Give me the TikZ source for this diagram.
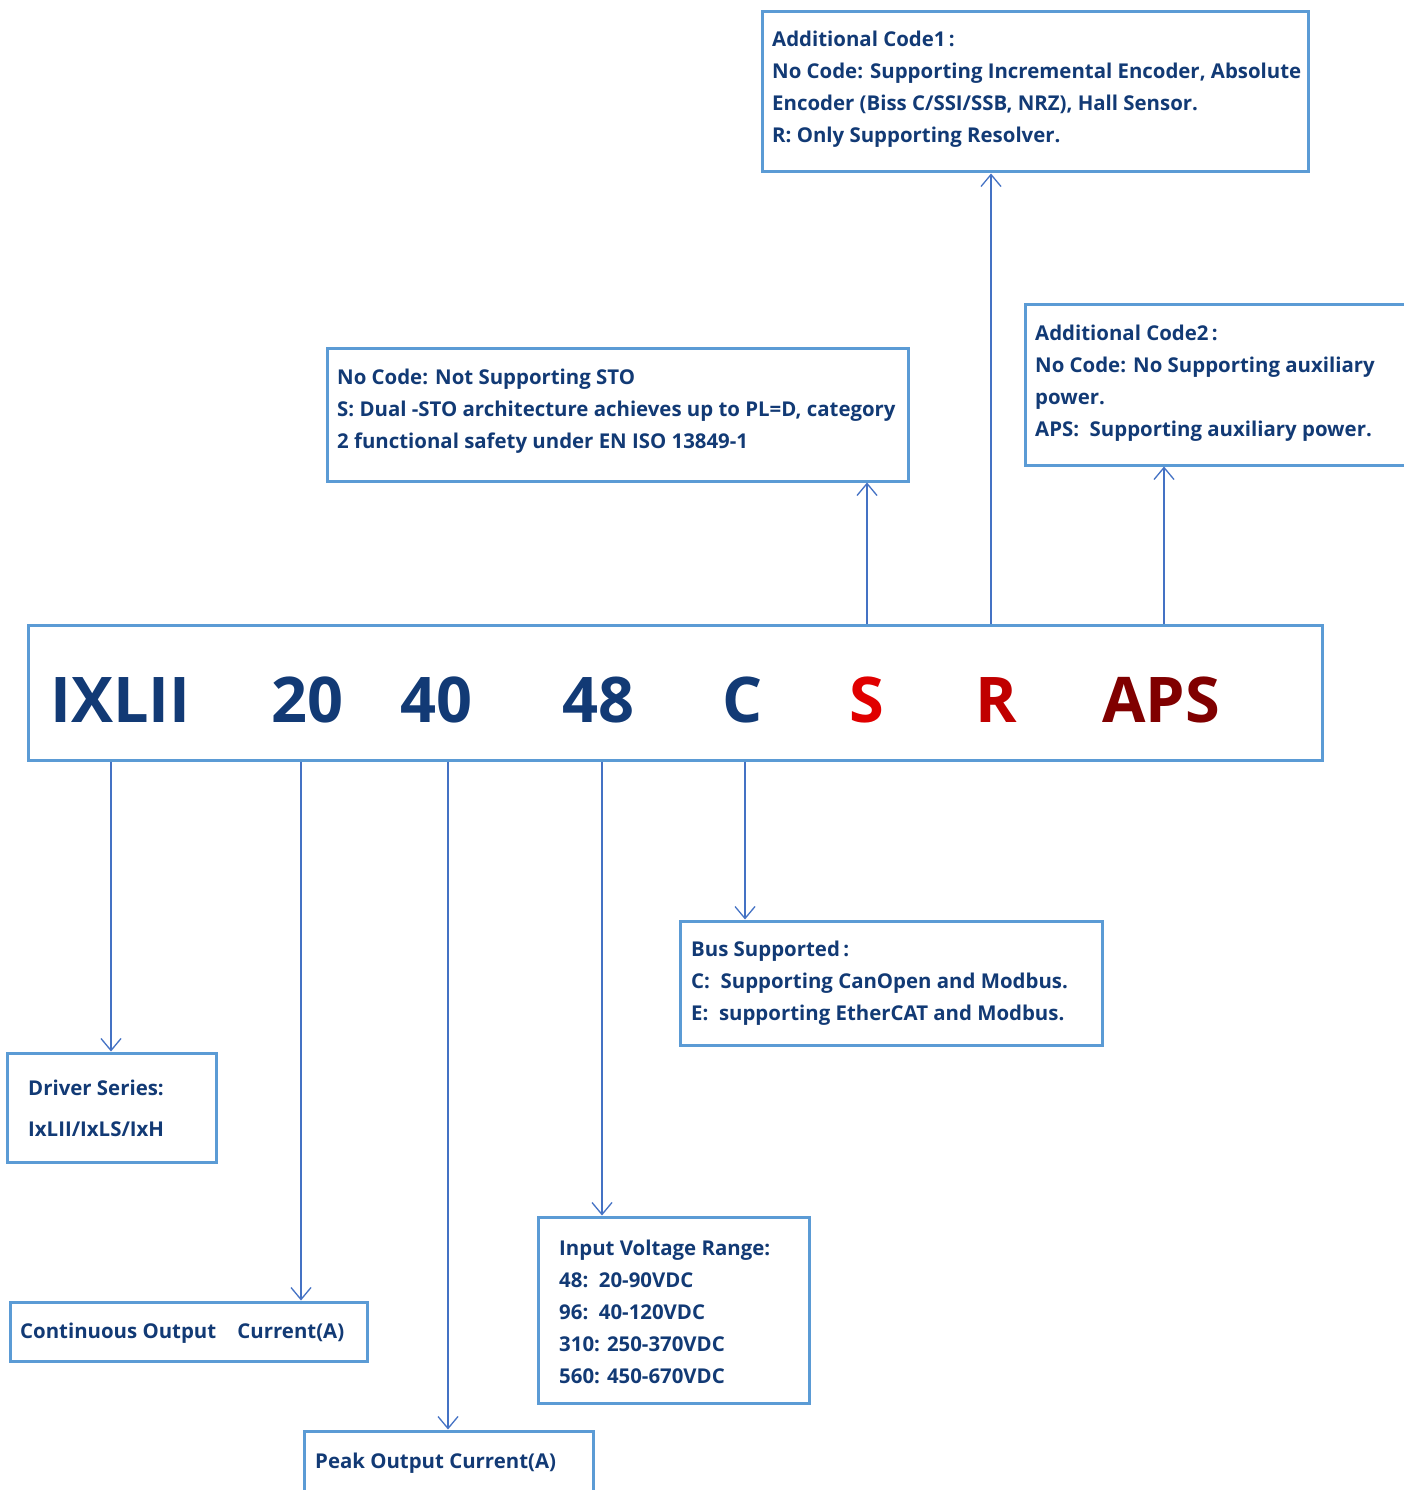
\documentclass[tikz,border=0pt]{standalone}
\usepackage{fontspec}
\setmainfont{Open Sans}
\usetikzlibrary{arrows.meta,fit}
\definecolor{txt}{HTML}{123A75}
\definecolor{boxc}{HTML}{5B9BD5}
\definecolor{arr}{HTML}{4472C4}
\definecolor{codeS}{HTML}{E00000}
\definecolor{codeR}{HTML}{C00000}
\definecolor{codeA}{HTML}{800000}
\begin{document}
\begin{tikzpicture}[x=1pt,y=-1pt,
  box/.style={draw=boxc, line width=3pt, inner sep=0pt},
  lbl/.style={font=\bfseries\fontsize{20.4}{32}\selectfont, text=txt, align=left, inner sep=0pt, anchor=base west},
  big/.style={font=\bfseries\fontsize{63}{63}\selectfont, inner sep=0pt, anchor=base west},
  conn/.style={draw=arr, line width=1.5pt, -{Straight Barb[length=12pt,width=20pt,line width=1.3pt]}}]
\useasboundingbox (0,0) rectangle (1404,1490);

% boxes
\node[box, fit={(762,12) (1308,172)}] (c1) {};
\node[box, fit={(327,348) (908,481)}] (sto) {};
\node[box, fit={(1025,304) (1420,465)}] (c2) {};
\node[box, fit={(28,625) (1322,760)}] (main) {};
\node[box, fit={(680,921) (1102,1045)}] (bus) {};
\node[box, fit={(7,1053) (216,1162)}] (drv) {};
\node[box, fit={(10,1302) (367,1361)}] (cont) {};
\node[box, fit={(538,1217) (809,1403)}] (vin) {};
\node[box, fit={(304,1431) (593,1500)}] (peak) {};

% texts (anchored at the baseline of the last line)
\node[lbl] (c1t) at (772,143) {Additional Code1\,:\\No Code: Supporting Incremental Encoder, Absolute\\Encoder (Biss C/SSI/SSB, NRZ), Hall Sensor.\\R: Only Supporting Resolver.};
\node[lbl] (stot) at (337,448) {No Code: Not Supporting STO\\S: Dual -STO architecture achieves up to PL=D, category\\2 functional safety under EN ISO 13849-1};
\node[lbl] (c2t) at (1035,436) {Additional Code2\,:\\No Code: No Supporting auxiliary\\power.\\APS:\ \ Supporting auxiliary power.};
\node[lbl] (bust) at (691,1020) {Bus Supported\,:\\C:\ \ Supporting CanOpen and Modbus.\\E:\ \ supporting EtherCAT and Modbus.};
\node[lbl, font=\bfseries\fontsize{20.4}{41}\selectfont] (drvt) at (28,1136) {Driver Series:\\IxLII/IxLS/IxH};
\node[lbl] (contt) at (20,1338) {Continuous Output\ \ \ \ Current(A)};
\node[lbl] (vint) at (559,1383) {Input Voltage Range:\\48:\ \ 20-90VDC\\96:\ \ 40-120VDC\\310: 250-370VDC\\560: 450-670VDC};
\node[lbl] (peakt) at (315,1468) {Peak Output Current(A)};

% code letters
\node[big, text=txt] (k1) at (50,722) {IXLII};
\node[big, text=txt] (k2) at (271,722) {20};
\node[big, text=txt] (k3) at (400,722) {40};
\node[big, text=txt] (k4) at (562,722) {48};
\node[big, text=txt] (k5) at (722,722) {C};
\node[big, text=codeS] (k6) at (849,722) {S};
\node[big, text=codeR] (k7) at (975,722) {R};
\node[big, text=codeA] (k8) at (1102,722) {APS};

% connectors
\draw[conn] (main.north -| 867,0) -- (sto.south -| 867,0);
\draw[conn] (main.north -| 991,0) -- (c1.south -| 991,0);
\draw[conn] (main.north -| 1164,0) -- (c2.south -| 1164,0);
\draw[conn] (main.south -| 111,0) -- (drv.north -| 111,0);
\draw[conn] (main.south -| 301,0) -- (cont.north -| 301,0);
\draw[conn] (main.south -| 448,0) -- (peak.north -| 448,0);
\draw[conn] (main.south -| 602,0) -- (vin.north -| 602,0);
\draw[conn] (main.south -| 745,0) -- (bus.north -| 745,0);
\end{tikzpicture}
\end{document}
